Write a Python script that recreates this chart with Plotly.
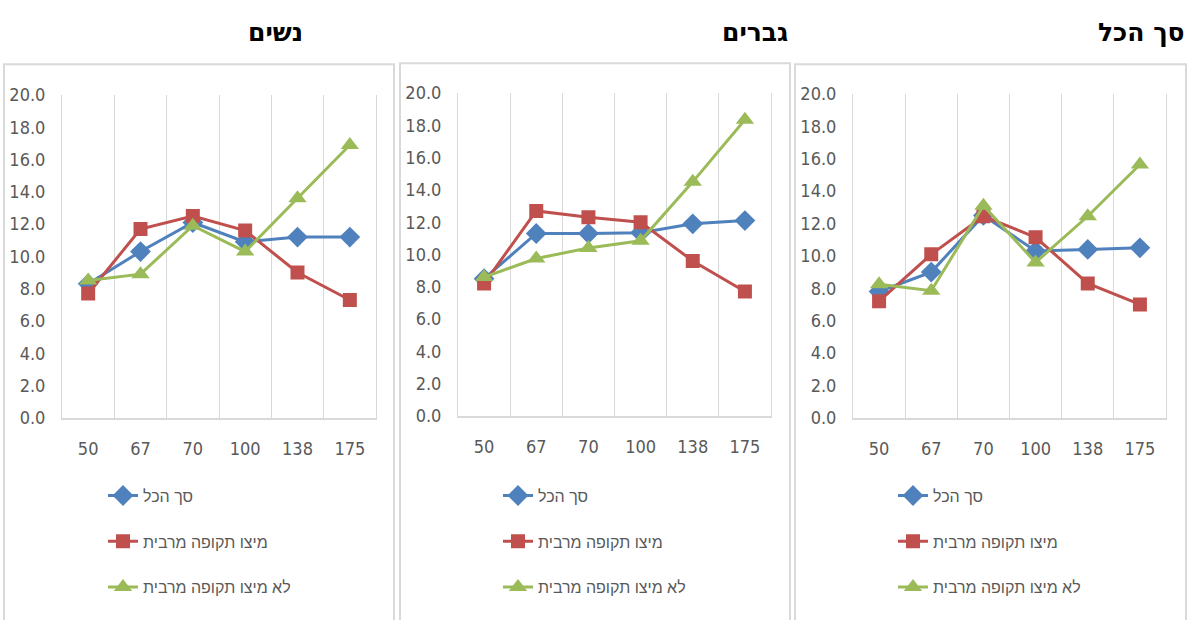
import plotly.graph_objects as go

categories = ["50", "67", "70", "100", "138", "175"]
y_ticks = [0, 2, 4, 6, 8, 10, 12, 14, 16, 18, 20]

series_names = ["סך הכל", "מיצו תקופה מרבית", "לא מיצו תקופה מרבית"]
panel_titles = ["נשים", "גברים", "סך הכל"]

# Women (left panel)
women_total = [8.3, 10.3, 12.1, 10.9, 11.2, 11.2]
women_maxed = [7.7, 11.7, 12.5, 11.6, 9.0, 7.3]
women_not_maxed = [8.5, 8.9, 11.9, 10.3, 13.6, 16.9]

# Men (middle panel)
men_total = [8.5, 11.3, 11.3, 11.35, 11.9, 12.1]
men_maxed = [8.2, 12.7, 12.3, 12.0, 9.6, 7.7]
men_not_maxed = [8.6, 9.75, 10.4, 10.85, 14.5, 18.35]

# All (right panel)
all_total = [7.8, 9.0, 12.5, 10.3, 10.4, 10.5]
all_maxed = [7.2, 10.1, 12.45, 11.15, 8.3, 7.0]
all_not_maxed = [8.25, 7.85, 13.1, 9.6, 12.45, 15.65]

panels = [
    [women_total, women_maxed, women_not_maxed],
    [men_total, men_maxed, men_not_maxed],
    [all_total, all_maxed, all_not_maxed],
]

colors = ["#4F81BD", "#C0504D", "#9BBB59"]
symbols = ["diamond", "square", "triangle-up"]
msizes = [16, 14, 16]

W, H = 1195, 620
def px(x):
    return x / W
def py(y):
    return 1 - y / H

# plot areas (pixel coords)
plot_boxes = [(62, 376, 87, 421), (458, 771, 85, 419), (853, 1166, 86, 421)]
frames = [(4, 394, 55), (400, 790, 54), (795, 1186, 55)]
legend_x = [103, 498, 893]
title_right = [305, 790, 1187]

tick_font = dict(family="Liberation Sans Narrow, DejaVu Sans Condensed, Arial Narrow, Liberation Sans, sans-serif", size=18, color="#595959")
legend_font = dict(family="Liberation Sans, Arial, sans-serif", size=16, color="#595959")
title_font = dict(family="DejaVu Sans, Liberation Sans, sans-serif", size=25, color="black", weight="bold")

fig = go.Figure()

for p, data in enumerate(panels):
    xa = "x" if p == 0 else f"x{p+1}"
    ya = "y" if p == 0 else f"y{p+1}"
    lg = "legend" if p == 0 else f"legend{p+1}"
    for s, vals in enumerate(data):
        fig.add_trace(go.Scatter(
            x=categories, y=vals, name=series_names[s],
            mode="lines+markers",
            line=dict(color=colors[s], width=3),
            marker=dict(symbol=symbols[s], size=msizes[s], color=colors[s]),
            xaxis=xa, yaxis=ya, legend=lg, legendgroup=f"g{p}{s}",
        ))

layout = dict(
    width=W, height=H,
    margin=dict(l=0, r=0, t=0, b=0),
    paper_bgcolor="white", plot_bgcolor="white",
    shapes=[], annotations=[],
)

for p in range(3):
    l, r, t, b = plot_boxes[p]
    sfx = "" if p == 0 else str(p + 1)
    layout[f"xaxis{sfx}"] = dict(
        domain=[px(l), px(r)], anchor=f"y{sfx}",
        type="category", range=[-0.5, 5.5],
        tickson="boundaries", showgrid=True, gridcolor="#D9D9D9", gridwidth=1,
        showline=True, linecolor="#D9D9D9", linewidth=1.5,
        ticks="", tickfont=tick_font, ticklabelstandoff=14,
        fixedrange=True,
    )
    layout[f"yaxis{sfx}"] = dict(
        domain=[py(b), py(t)], anchor=f"x{sfx}",
        range=[0, 20], tickvals=y_ticks, tickformat=".1f",
        showgrid=False, zeroline=False,
        showline=True, mirror=True, linecolor="#D9D9D9", linewidth=1,
        ticks="", tickfont=tick_font, ticklabelstandoff=12,
        fixedrange=True,
    )
    lgname = "legend" if p == 0 else f"legend{p+1}"
    layout[lgname] = dict(
        x=px(legend_x[p]), xanchor="left", y=py(484), yanchor="top",
        orientation="v", font=legend_font, tracegroupgap=22,
        bgcolor="rgba(0,0,0,0)", itemclick=False, itemdoubleclick=False,
    )
    fl, fr, ft = frames[p]
    layout["shapes"].append(dict(
        type="rect", xref="paper", yref="paper",
        x0=px(fl), x1=px(fr), y0=py(640), y1=py(ft),
        line=dict(color="#D9D9D9", width=2), fillcolor="rgba(0,0,0,0)", layer="below",
    ))
    layout["annotations"].append(dict(
        text=panel_titles[p], xref="paper", yref="paper",
        x=px(title_right[p]), y=py(22), xanchor="right", yanchor="middle",
        showarrow=False, font=title_font,
    ))

fig.update_layout(**layout)
fig.write_html("out.html", post_script="document.body.style.margin='0';",
               config={"displayModeBar": False})
